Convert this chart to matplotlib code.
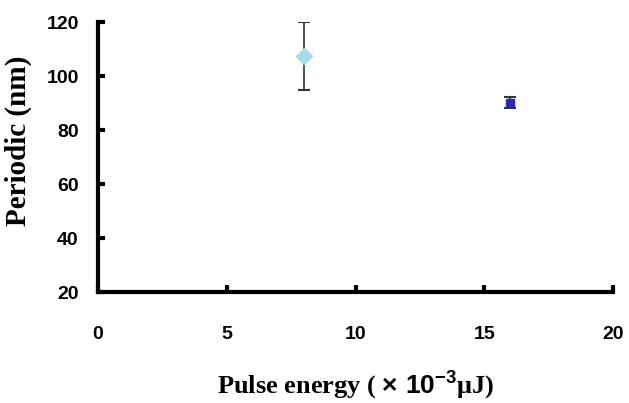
import matplotlib
matplotlib.use("Agg")
import matplotlib.pyplot as plt

# data
energy = [8, 16]
period = [107.5, 90.2]
err = [12.5, 2.0]
markers = ["D", "s"]
colors = ["#aadbe8", "#2a2ab0"]

plt.rcParams.update({
    "mathtext.fontset": "custom",
    "mathtext.rm": "Liberation Sans:bold",
    "mathtext.it": "Liberation Sans:bold",
    "mathtext.bf": "Liberation Sans:bold",
})

fig = plt.figure(figsize=(6.29, 4.03), dpi=100)
ax = fig.add_axes([0.156, 0.275, 0.819, 0.67])

for x, y, e, m, c in zip(energy, period, err, markers, colors):
    ax.errorbar(x, y, yerr=e, fmt=m, color=c, ms=8 if m == "D" else 6,
                ecolor="#333333", elinewidth=1.2, capsize=4, capthick=1.5, zorder=3)

ax.set_xlim(0, 20)
ax.set_ylim(20, 120)
ax.set_xticks([0, 5, 10, 15, 20])
ax.set_yticks([20, 40, 60, 80, 100, 120])

for s in ["top", "right"]:
    ax.spines[s].set_visible(False)
for s in ["left", "bottom"]:
    ax.spines[s].set_linewidth(3)

ax.tick_params(axis="both", direction="in", length=5, width=3)
ax.tick_params(axis="x", pad=24)
ax.tick_params(axis="y", pad=14)
for lab in ax.get_xticklabels() + ax.get_yticklabels():
    lab.set_fontfamily("Liberation Sans")
    lab.set_fontweight("bold")
    lab.set_fontsize(14)

ax.set_xlabel("Pulse energy ( $\\mathrm{\u00d7\\ 10^{-3}}$\u03bcJ)", family="Liberation Serif",
              weight="bold", fontsize=19, labelpad=20)
ax.set_ylabel("Periodic (nm)", family="Liberation Serif", weight="bold",
              fontsize=21)
ax.yaxis.set_label_coords(-0.128, 0.56)

fig.savefig("out.png", dpi=100)
